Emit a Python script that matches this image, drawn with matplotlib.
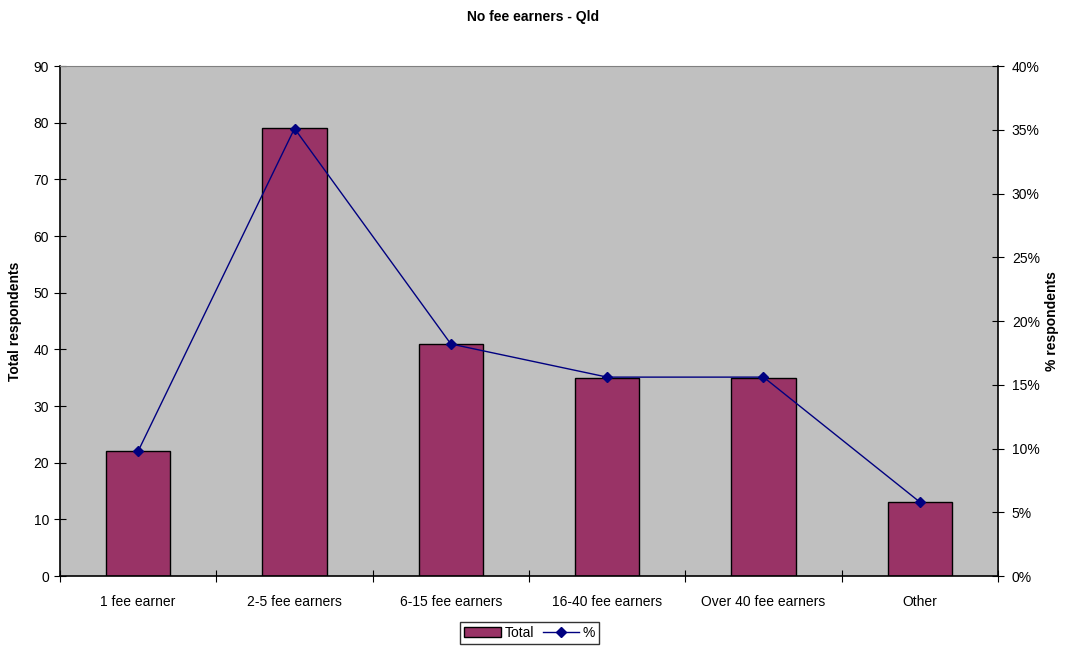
import numpy as np
import matplotlib.pyplot as plt
from matplotlib.ticker import FuncFormatter, MultipleLocator

plt.rcParams['font.family'] = ['Liberation Sans', 'DejaVu Sans']

categories = ["1 fee earner", "2-5 fee earners", "6-15 fee earners",
              "16-40 fee earners", "Over 40 fee earners", "Other"]
totals = [22, 79, 41, 35, 35, 13]
percents = [9.8, 35.1, 18.2, 15.6, 15.6, 5.8]

fig = plt.figure(figsize=(10.66, 6.48), dpi=100)
ax = fig.add_axes([0.0563, 0.1111, 0.8799, 0.7870])
ax.set_facecolor('#c0c0c0')
x = np.arange(len(categories))
bars = ax.bar(x, totals, width=0.41, color='#993366', edgecolor='black',
              linewidth=1, label='Total', zorder=2)
ax.set_xlim(-0.5, len(categories) - 0.5)
ax.set_ylim(0, 90)
ax.yaxis.set_major_locator(MultipleLocator(10))
ax.set_xticks(np.arange(-0.5, len(categories), 1.0))
ax.set_xticklabels([])
ax.set_xticks(x, minor=True)
ax.set_xticklabels(categories, minor=True)
ax.tick_params(axis='x', which='minor', length=0, pad=14, labelsize=10)
ax.tick_params(axis='x', which='major', direction='inout', length=8)
ax.tick_params(axis='y', direction='inout', length=8, labelsize=10, pad=4)
ax.set_ylabel("Total respondents", fontsize=10, fontweight='bold', labelpad=8)
ax.spines['right'].set_visible(False)
ax.spines['left'].set_linewidth(1.2)
ax.spines['bottom'].set_linewidth(1.2)
ax.spines['top'].set_color('#808080')
ax.spines['top'].set_linewidth(0.8)

ax2 = ax.twinx()
line, = ax2.plot(x, percents, color='#000080', marker='D', markersize=5,
                 linewidth=1, label='%', zorder=3)
ax2.set_ylim(0, 40)
ax2.yaxis.set_major_locator(MultipleLocator(5))
ax2.yaxis.set_major_formatter(FuncFormatter(lambda v, p: "%d%%" % v))
ax2.tick_params(axis='y', direction='inout', length=8, labelsize=10, pad=6)
ax2.set_ylabel("% respondents", fontsize=10, fontweight='bold', labelpad=4)
for s in ['top', 'left', 'bottom']:
    ax2.spines[s].set_visible(False)
ax2.spines['right'].set_linewidth(1.2)

fig.suptitle("No fee earners - Qld", fontsize=10, fontweight='bold', y=0.985)

leg = fig.legend([bars, line], ["Total", "%"], loc='center',
                 bbox_to_anchor=(0.497, 0.023), ncol=2, fontsize=10,
                 frameon=True, fancybox=False, edgecolor='black',
                 handlelength=2.6, handletextpad=0.3, columnspacing=0.6,
                 borderpad=0.3, borderaxespad=0.2)
leg.get_frame().set_linewidth(1)

fig.savefig("out.png", dpi=100)
